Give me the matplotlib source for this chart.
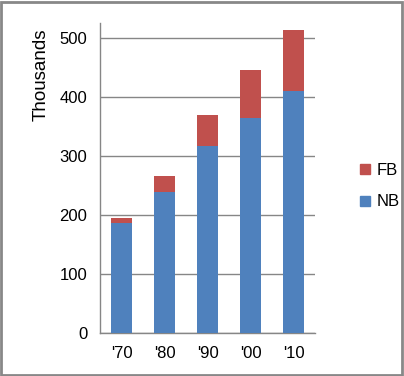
import matplotlib
matplotlib.use("Agg")
import matplotlib.pyplot as plt
from matplotlib.patches import Rectangle
from matplotlib.lines import Line2D

categories = ["'70", "'80", "'90", "'00", "'10"]
nb = [186, 240, 318, 365, 411]
fb = [9, 27, 52, 81, 103]
yticks = [0, 100, 200, 300, 400, 500]

plt.rcParams['font.family'] = ['Liberation Sans', 'DejaVu Sans']

W, H = 404, 376
fig = plt.figure(figsize=(W / 100, H / 100), dpi=100)
ax = fig.add_axes([100 / W, (H - 333.3) / H, 215 / W, (333.3 - 23.3) / H])

blue = '#4F81BD'
red = '#C0504D'
x = list(range(len(categories)))
ax.bar(x, nb, width=0.5, color=blue, zorder=3, label='NB')
ax.bar(x, fb, width=0.5, bottom=nb, color=red, zorder=3, label='FB')

ax.set_xlim(-0.5, len(categories) - 0.5)
ax.set_ylim(0, 525)
ax.set_yticks(yticks)
ax.set_xticks(x)
ax.set_xticklabels(categories)
ax.yaxis.grid(True, color='#868686', linewidth=1.0, zorder=0)
ax.set_axisbelow(True)
for s in ['top', 'right']:
    ax.spines[s].set_visible(False)
for s in ['left', 'bottom']:
    ax.spines[s].set_color('#868686')
    ax.spines[s].set_linewidth(1.0)
ax.tick_params(axis='both', length=0, labelsize=12, colors='#000000')
ax.tick_params(axis='y', pad=9)
ax.tick_params(axis='x', pad=9)
ax.set_ylabel('Thousands', fontsize=13.5, va='center')
ax.yaxis.set_label_coords((41 - 100) / 215, (333.3 - 74.5) / 310)

handles = [Line2D([], [], marker='s', linestyle='none', color=red, markersize=7),
           Line2D([], [], marker='s', linestyle='none', color=blue, markersize=7)]
fig.legend(handles, ['FB', 'NB'], loc='center left', bbox_to_anchor=(340 / W, (H - 186) / H),
           frameon=False, fontsize=12, handletextpad=0.1, labelspacing=1.0, handlelength=1.2)

fig.patches.append(Rectangle((0.5 / W, 1 / H), (W - 2.5) / W, (H - 2.5) / H, transform=fig.transFigure,
                             fill=False, edgecolor='#888888', linewidth=2))

fig.savefig('out.png', dpi=100)
